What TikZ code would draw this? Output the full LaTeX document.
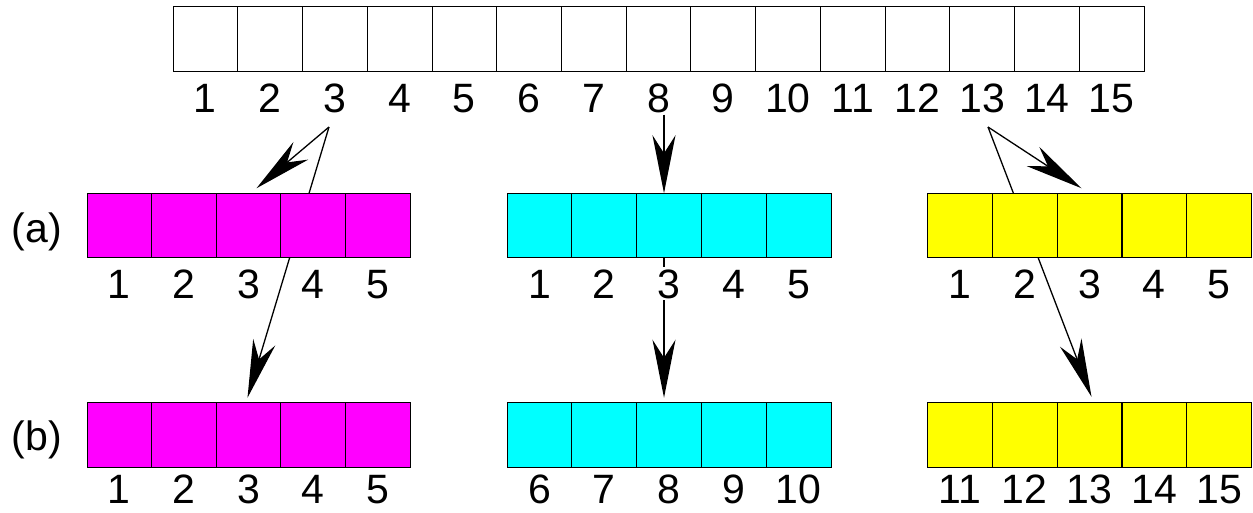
\documentclass[tikz,border=0pt]{standalone}
\usepackage{fontspec}
\setmainfont{Liberation Sans}
\usetikzlibrary{arrows.meta,calc,backgrounds}
\definecolor{mag}{RGB}{255,0,255}
\definecolor{cya}{RGB}{0,255,255}
\definecolor{yel}{RGB}{255,255,0}
\begin{document}
\begin{tikzpicture}[x=1pt,y=-1pt,
  cell/.style={draw=black,line width=0.8pt,inner sep=0pt,outer sep=0pt,minimum width=64.7pt,minimum height=64.5pt},
  lab/.style={font=\fontsize{41}{46}\selectfont,inner sep=2pt,anchor=base,fill=white},
  side/.style={font=\fontsize{41}{46}\selectfont,inner sep=0pt,anchor=base},
  arr/.style={line width=1.3pt,-{Stealth[length=58pt,width=23pt,inset=18pt]}}]
\useasboundingbox (0,0) rectangle (1253,512);
% named coordinates for arrow bends
\coordinate (p3) at (329,127);
\coordinate (p13) at (988,127);
% top array
\foreach \i in {1,...,15}{
  \node[cell,fill=white] (c\i) at ({173+(\i-0.5)*64.73},39) {};
  \node[lab] (t\i) at ({173+(\i-0.5)*64.73},112) {\i};
}
% row (a) and (b) arrays
\foreach \i in {1,...,5}{
  \node[cell,fill=mag] (ma\i) at ({87+(\i-0.5)*64.6},225.5) {};
  \node[cell,fill=cya] (ca\i) at ({507+(\i-0.5)*64.8},225.5) {};
  \node[cell,fill=yel] (ya\i) at ({927.5+(\i-0.5)*64.8},225.5) {};
  \node[cell,fill=mag] (mb\i) at ({87+(\i-0.5)*64.6},435) {};
  \node[cell,fill=cya] (cb\i) at ({507+(\i-0.5)*64.8},435) {};
  \node[cell,fill=yel] (yb\i) at ({927.5+(\i-0.5)*64.8},435) {};
}
% labels rows (a) and (b)
\foreach \i in {1,...,5}{
  \node[lab] (lma\i) at ({87+(\i-0.5)*64.6},298) {\i};
  \node[lab] (lca\i) at ({507+(\i-0.5)*64.8},298) {\i};
  \node[lab] (lya\i) at ({927.5+(\i-0.5)*64.8},298) {\i};
  \node[lab] (lmb\i) at ({87+(\i-0.5)*64.6},503) {\i};
}
\foreach \i [evaluate=\i as \j using int(\i+5), evaluate=\i as \k using int(\i+10)] in {1,...,5}{
  \node[lab] (lcb\i) at ({507+(\i-0.5)*64.8},503) {\j};
  \node[lab] (lyb\i) at ({927.5+(\i-0.5)*64.8},503) {\k};
}
\node[side] (la) at (37,242) {(a)};
\node[side] (lb) at (37,450) {(b)};
% connectors behind the arrays
\begin{scope}[on background layer]
  \draw[arr] (p3) -- ([xshift=8pt,yshift=5pt]ma3.north);
  \draw[arr] (p3) -- ([xshift=-1pt,yshift=5pt]mb3.north);
  \draw[arr] ([xshift=-5pt]ca3.north |- t8.south) -- ([xshift=-5pt]ca3.north);
  \draw[arr] ([xshift=-5pt]ca3.south) -- ([xshift=-5pt,yshift=5pt]cb3.north);
  \draw[arr] (p13) -- ([xshift=-8pt,yshift=5pt]ya3.north);
  \draw[arr] (p13) -- ([xshift=2pt,yshift=6pt]yb3.north);
\end{scope}
\end{tikzpicture}
\end{document}
